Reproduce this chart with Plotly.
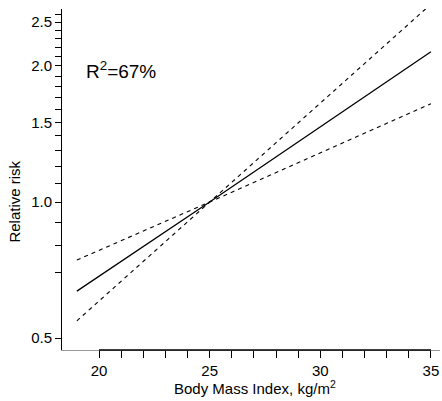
import plotly.graph_objects as go

# Data
bmi = [19, 25, 35]
rr = [0.635, 1.0, 2.15]
ci_a = [0.744, 1.0, 1.65]
ci_b = [0.546, 1.0, 2.74]

x_major = [20, 25, 30, 35]
x_minor = [21, 22, 23, 24, 26, 27, 28, 29, 31, 32, 33, 34]
y_major = [0.5, 1.0, 1.5, 2.0, 2.5]
y_minor = [0.7, 0.8, 0.9, 1.1, 1.2, 1.3, 1.4, 1.6, 1.7, 1.8, 1.9,
           2.1, 2.2, 2.3, 2.4, 2.6]

FONT = "Liberation Sans, Arial, sans-serif"
FS = 15

fig = go.Figure()
fig.add_trace(go.Scatter(x=bmi, y=ci_a, mode="lines",
                         line=dict(color="black", width=1.1, dash="4px,4px")))
fig.add_trace(go.Scatter(x=bmi, y=ci_b, mode="lines",
                         line=dict(color="black", width=1.1, dash="4px,4px")))
fig.add_trace(go.Scatter(x=bmi, y=rr, mode="lines",
                         line=dict(color="black", width=1.3)))

xt = x_major + x_minor
xtt = [str(v) for v in x_major] + [""] * len(x_minor)
yt = y_major + y_minor
ytt = [f"{v:.1f}" for v in y_major] + [""] * len(y_minor)

fig.update_layout(
    width=442, height=401,
    margin=dict(l=62, r=2, t=9, b=51),
    paper_bgcolor="white", plot_bgcolor="white",
    showlegend=False,
    font=dict(family=FONT, size=FS, color="black"),
    xaxis=dict(range=[18.328, 35.41], showgrid=False, zeroline=False,
               tickmode="array", tickvals=xt, ticktext=xtt,
               ticks="outside", ticklen=7, tickcolor="black", tickwidth=1,
               showline=True, linecolor="#999999", linewidth=1,
               tickfont=dict(size=FS, family=FONT)),
    yaxis=dict(type="log", range=[-0.3274, 0.4270], showgrid=False, zeroline=False,
               tickmode="array", tickvals=yt, ticktext=ytt,
               ticks="outside", ticklen=6, tickcolor="black", tickwidth=1,
               showline=True, linecolor="black", linewidth=1,
               tickfont=dict(size=FS, family=FONT)),
)

# black axis segment from first to last major x tick
fig.add_shape(type="line", xref="x", yref="paper", x0=20, x1=35, y0=0, y1=0,
              line=dict(color="black", width=1.5))

fig.add_annotation(text="R<sup>2</sup>=67%", xref="paper", yref="paper",
                   x=0.058, y=0.821, xanchor="left", yanchor="middle",
                   showarrow=False, font=dict(size=19, family=FONT, color="black"))
fig.add_annotation(text="Body Mass Index, kg/m<sup>2</sup>", xref="paper", yref="paper",
                   x=0.51, y=-0.111, xanchor="center", yanchor="middle",
                   showarrow=False, font=dict(size=FS, family=FONT, color="black"))
fig.add_annotation(text="Relative risk", xref="paper", yref="paper",
                   x=-0.128, y=0.434, xanchor="center", yanchor="middle", textangle=-90,
                   showarrow=False, font=dict(size=FS, family=FONT, color="black"))

fig.write_html("out.html", config={"displayModeBar": False},
               post_script="document.body.style.margin='0';document.body.style.overflow='hidden';")
